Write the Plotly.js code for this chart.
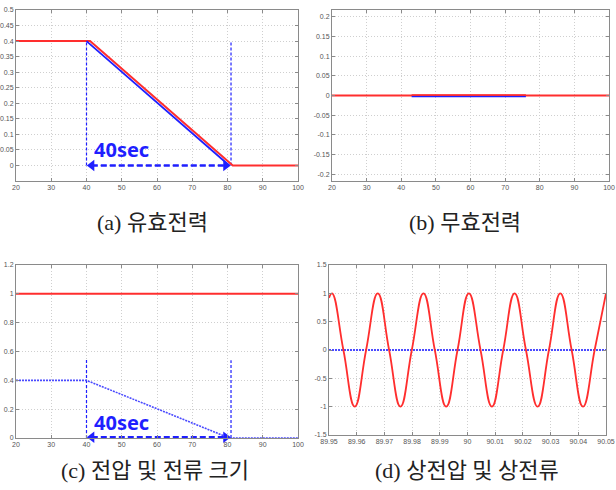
<!DOCTYPE html>
<html>
<head>
<meta charset="utf-8">
<script src="https://cdn.plot.ly/plotly-3.0.1.min.js"></script>
<style>html,body{margin:0;padding:0;background:#fff;}#chart{width:616px;height:490px;}</style>
</head>
<body>
<div id="chart"></div>
<script>
// ---------- data ----------
// (a) active power
const aRedX = [20, 41, 81.5, 100];
const aRedY = [0.4, 0.4, 0, 0];
const aBlueX = [40, 80.5];
const aBlueY = [0.4, 0];
const aMarkX = [40, 81];
const aMarkTop = [0.4, 0.4];
const aArrowX = [41.5, 79.5];
const aArrowY = [0, 0];
const aLabelPos = [50, 0.052];

// (b) reactive power
const bRedX = [20, 100];
const bRedY = [0, 0];
const bRed2X = [43, 76];
const bRed2Y = [0.0015, 0.0015];
const bBlueX = [43, 76];
const bBlueY = [-0.0025, -0.0025];

// (c) voltage / current magnitude
const cRedX = [20, 100];
const cRedY = [1, 1];
const cBlueX = [20, 40, 80.5, 100];
const cBlueY = [0.4, 0.4, 0, 0];
const cMarkX = [40, 81];
const cMarkTop = [0.55, 0.54];
const cArrowX = [41.5, 79.5];
const cArrowY = [0.005, 0.005];
const cLabelPos = [50, 0.11];

// (d) phase voltage / current (key points)
const dVx = [89.9500, 89.9511, 89.9552, 89.9593, 89.9634, 89.9676, 89.9717, 89.9758, 89.9799,
             89.9841, 89.9882, 89.9923, 89.9964, 90.0005, 90.0047, 90.0088, 90.0129, 90.0170,
             90.0211, 90.0253, 90.0294, 90.0335, 90.0376, 90.0417, 90.0459, 90.0500];
const dVy = [0.92, 1, 0, -1, 0, 1, 0, -1, 0,
             1, 0, -1, 0, 1, 0, -1, 0, 1,
             0, -1, 0, 1, 0, -1, 0, 1];
const dIx = [89.95, 90.05];
const dIy = [0, 0];

// ticks
const abcXTicks = [20, 30, 40, 50, 60, 70, 80, 90, 100];
const aYTicks = [0, 0.05, 0.1, 0.15, 0.2, 0.25, 0.3, 0.35, 0.4, 0.45, 0.5];
const aYText = ['0', '0.05', '0.1', '0.15', '0.2', '0.25', '0.3', '0.35', '0.4', '0.45', '0.5'];
const bYTicks = [-0.2, -0.15, -0.1, -0.05, 0, 0.05, 0.1, 0.15, 0.2];
const bYText = ['-0.2', '-0.15', '-0.1', '-0.05', '0', '0.05', '0.1', '0.15', '0.2'];
const cYTicks = [0, 0.2, 0.4, 0.6, 0.8, 1, 1.2];
const cYText = ['0', '0.2', '0.4', '0.6', '0.8', '1', '1.2'];
const dXTicks = [89.95, 89.96, 89.97, 89.98, 89.99, 90, 90.01, 90.02, 90.03, 90.04, 90.05];
const dXText = ['89.95', '89.96', '89.97', '89.98', '89.99', '90', '90.01', '90.02', '90.03', '90.04', '90.05'];
const dYTicks = [-1.5, -1, -0.5, 0, 0.5, 1, 1.5];
const dYText = ['-1.5', '-1', '-0.5', '0', '0.5', '1', '1.5'];

const captions = ['(a) 유효전력', '(b) 무효전력', '(c) 전압 및 전류 크기', '(d) 상전압 및 상전류'];

// ---------- styling ----------
const RED = '#ff2e2e';
const BLUE = '#1f1fff';
const LBLUE = '#4a4aff';
const W = 616, H = 490;
const dx = (l, r) => [l / W, r / W];
const dy = (t, b) => [1 - b / H, 1 - t / H];

function vlines(xs, tops, ax, ay) {
  const X = [], Y = [];
  xs.forEach((x, i) => { X.push(x, x, null); Y.push(0, tops[i], null); });
  return {x: X, y: Y, xaxis: ax, yaxis: ay, mode: 'lines', line: {color: BLUE, width: 1.2, dash: '3px,2px'}, hoverinfo: 'skip'};
}
function arrow(xs, ys, ax, ay) {
  return {x: xs, y: ys, xaxis: ax, yaxis: ay, mode: 'lines+markers', cliponaxis: false,
    line: {color: BLUE, width: 2.5, dash: '6px,3px'},
    marker: {symbol: ['triangle-left', 'triangle-right'], size: 10, color: BLUE}, hoverinfo: 'skip'};
}

const traces = [
  // (a)
  vlines(aMarkX, aMarkTop, 'x', 'y'),
  {x: aRedX, y: aRedY, xaxis: 'x', yaxis: 'y', mode: 'lines', line: {color: RED, width: 2}},
  {x: aBlueX, y: aBlueY, xaxis: 'x', yaxis: 'y', mode: 'lines', line: {color: BLUE, width: 1.8}},
  arrow(aArrowX, aArrowY, 'x', 'y'),
  // (b)
  {x: bRedX, y: bRedY, xaxis: 'x2', yaxis: 'y2', mode: 'lines', line: {color: RED, width: 2}},
  {x: bBlueX, y: bBlueY, xaxis: 'x2', yaxis: 'y2', mode: 'lines', line: {color: BLUE, width: 1.5}},
  {x: bRed2X, y: bRed2Y, xaxis: 'x2', yaxis: 'y2', mode: 'lines', line: {color: RED, width: 1.5}},
  // (c)
  {x: cRedX, y: cRedY, xaxis: 'x3', yaxis: 'y3', mode: 'lines', line: {color: RED, width: 2}},
  vlines(cMarkX, cMarkTop, 'x3', 'y3'),
  {x: cBlueX, y: cBlueY, xaxis: 'x3', yaxis: 'y3', mode: 'lines', cliponaxis: false, line: {color: LBLUE, width: 1.6, dash: '2px,1px'}},
  arrow(cArrowX, cArrowY, 'x3', 'y3'),
  // (d)
  {x: dIx, y: dIy, xaxis: 'x4', yaxis: 'y4', mode: 'lines', line: {color: LBLUE, width: 2, dash: '2px,1px'}},
  {x: dVx, y: dVy, xaxis: 'x4', yaxis: 'y4', mode: 'lines', line: {color: RED, width: 1.8, shape: 'spline', smoothing: 1.3}},
];

const axBase = {
  showline: true, linecolor: '#8a8a8a', linewidth: 1, mirror: 'ticks',
  ticks: 'inside', ticklen: 3, tickcolor: '#8a8a8a',
  showgrid: true, gridcolor: '#cfcfcf', griddash: '1px,2px', gridwidth: 1,
  zeroline: false, fixedrange: true, ticklabeloverflow: 'allow',
  tickfont: {size: 7, color: '#555', family: 'Liberation Sans, Arial, sans-serif'},
  tickmode: 'array'
};
const ax = (o) => Object.assign({}, axBase, o);

const layout = {
  width: W, height: H,
  margin: {l: 0, r: 0, t: 0, b: 0},
  paper_bgcolor: '#fff', plot_bgcolor: '#fff',
  showlegend: false,
  xaxis:  ax({domain: dx(16, 298), range: [20, 100], tickvals: abcXTicks, anchor: 'y'}),
  yaxis:  ax({domain: dy(10, 181), range: [-0.05, 0.5], tickvals: aYTicks, ticktext: aYText, anchor: 'x'}),
  xaxis2: ax({domain: dx(332, 609), range: [20, 100], tickvals: abcXTicks, anchor: 'y2'}),
  yaxis2: ax({domain: dy(10, 181), range: [-0.217, 0.217], tickvals: bYTicks, ticktext: bYText, anchor: 'x2'}),
  xaxis3: ax({domain: dx(16, 298), range: [20, 100], tickvals: abcXTicks, anchor: 'y3'}),
  yaxis3: ax({domain: dy(265, 438), range: [0, 1.2], tickvals: cYTicks, ticktext: cYText, anchor: 'x3'}),
  xaxis4: ax({domain: dx(329, 606), range: [89.95, 90.05], tickvals: dXTicks, ticktext: dXText, anchor: 'y4'}),
  yaxis4: ax({domain: dy(265, 435), range: [-1.5, 1.5], tickvals: dYTicks, ticktext: dYText, anchor: 'x4'}),
  annotations: [
    {text: '<b>40sec</b>', x: aLabelPos[0], y: aLabelPos[1], xref: 'x', yref: 'y', showarrow: false,
     font: {family: 'Noto Sans, Open Sans, sans-serif', size: 20, color: BLUE}},
    {text: '<b>40sec</b>', x: cLabelPos[0], y: cLabelPos[1], xref: 'x3', yref: 'y3', showarrow: false,
     font: {family: 'Noto Sans, Open Sans, sans-serif', size: 20, color: BLUE}},
  ].concat(captions.map((t, i) => ({
    text: t, xref: 'paper', yref: 'paper',
    x: [152, 465, 155, 467][i] / W, y: 1 - [222, 222, 470, 470][i] / H,
    xanchor: 'center', yanchor: 'middle', showarrow: false,
    font: {family: 'Liberation Serif, Noto Sans CJK KR, serif', size: 22, color: '#222'}
  })))
};

Plotly.newPlot('chart', traces, layout, {staticPlot: true, displayModeBar: false});
</script>
</body>
</html>
